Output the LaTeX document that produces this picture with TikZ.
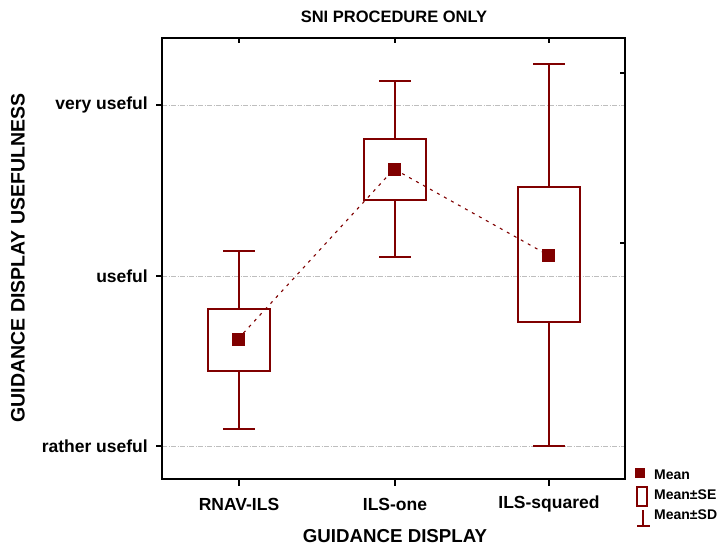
\documentclass[tikz,border=0pt]{standalone}
\usepackage{fontspec}
\setmainfont{Liberation Sans}
\definecolor{dred}{RGB}{128,0,0}
\definecolor{gridgray}{RGB}{190,190,190}
\tikzset{
  txt/.style={font=\bfseries\fontsize{17.5}{20}\selectfont, inner sep=0pt},
  legtxt/.style={font=\bfseries\fontsize{14}{16}\selectfont, inner sep=0pt, anchor=west},
  gridln/.style={gridgray, line width=1pt, dash pattern=on 5pt off 1.5pt on 1pt off 1.5pt},
  frameln/.style={black, line width=1.5pt},
  boxln/.style={dred, line width=2pt},
  whisk/.style={dred, line width=1.6pt},
  capln/.style={dred, line width=2pt},
  meanln/.style={dred, line width=1.1pt, dash pattern=on 3pt off 5pt},
  tickln/.style={black, line width=1.2pt}
}
\begin{document}
\begin{tikzpicture}[x=1pt,y=-1pt]
\useasboundingbox (0,0) rectangle (728,547);
\fill[white] (0,0) rectangle (728,547);

% frame corners
\coordinate (tl) at (162,38);
\coordinate (br) at (625,479);

% grid lines
\foreach \yy/\nm in {105/g1,276/g2,446/g3}{
  \coordinate (\nm l) at (162,\yy);
  \coordinate (\nm r) at (625,\yy);
  \draw[gridln] (\nm l) -- (\nm r);
}

% titles
\node[txt, font=\bfseries\fontsize{16.5}{20}\selectfont] (title) at (394,17) {SNI PROCEDURE ONLY};
\node[txt, rotate=90, font=\bfseries\fontsize{19.5}{22}\selectfont] (ylab) at (18,258) {GUIDANCE DISPLAY USEFULNESS};
\node[txt, font=\bfseries\fontsize{18.7}{22}\selectfont] (xlab) at (395,536) {GUIDANCE DISPLAY};

% y labels and ticks
\node[txt, anchor=east] (yl1) at (148,105) {very useful};
\node[txt, anchor=east] (yl2) at (148,276) {useful};
\node[txt, anchor=east] (yl3) at (148,446) {rather useful};
\foreach \yy in {105,276,446}{
  \coordinate (lt1) at (156,\yy);
  \coordinate (lt2) at (162,\yy);
  \draw[tickln] (lt1) -- (lt2);
}
% right ticks
\foreach \yy in {73,243}{
  \coordinate (rt1) at (620,\yy);
  \coordinate (rt2) at (625,\yy);
  \draw[tickln] (rt1) -- (rt2);
}

% x ticks and labels
\foreach \xx/\lab/\nm in {239/RNAV-ILS/c1, 395/ILS-one/c2, 549/ILS-squared/c3}{
  \coordinate (\nm b1) at (\xx,479);
  \coordinate (\nm b2) at (\xx,486);
  \coordinate (\nm t1) at (\xx,38);
  \coordinate (\nm t2) at (\xx,43);
  \draw[tickln] (\nm b1) -- (\nm b2);
  \draw[tickln] (\nm t1) -- (\nm t2);
  \node[txt] (\nm lab) at (\xx,504) {\lab};
}

% box plots: x / whisker top / box top / box bottom / whisker bottom / mean
\foreach \xx/\wt/\bt/\bb/\wb/\mn/\nm in {239/251/309/371/429/339/m1, 395/81/139/200/257/169/m2, 549/64/187/322/446/255/m3}{
  \coordinate (\nm wt) at (\xx,\wt);
  \coordinate (\nm bt) at (\xx,\bt);
  \coordinate (\nm bb) at (\xx,\bb);
  \coordinate (\nm wb) at (\xx,\wb);
  \coordinate (\nm) at (\xx-1,\mn);
  \draw[whisk] (\nm wt) -- (\nm bt);
  \draw[whisk] (\nm bb) -- (\nm wb);
  \draw[capln] ([xshift=-16pt]\nm wt) -- ([xshift=16pt]\nm wt);
  \draw[capln] ([xshift=-16pt]\nm wb) -- ([xshift=16pt]\nm wb);
  \draw[boxln] ([xshift=-31pt]\nm bt) rectangle ([xshift=31pt]\nm bb);
}

% mean line
\draw[meanln] (m1) -- (m2) -- (m3);
\foreach \nm in {m1,m2,m3}{
  \fill[dred] ([xshift=-6.5pt,yshift=6.5pt]\nm) rectangle ([xshift=6.5pt,yshift=-6.5pt]\nm);
}

% frame
\draw[frameln] (tl) rectangle (br);

% legend
\coordinate (lg1) at (640,473);
\fill[dred] ([xshift=-5pt,yshift=5pt]lg1) rectangle ([xshift=5pt,yshift=-5pt]lg1);
\draw[dred, line width=1.5pt] (637,487) rectangle (647,506);
\coordinate (lsd1) at (643,510);
\coordinate (lsd2) at (643,526);
\draw[dred, line width=1.5pt] (lsd1) -- (lsd2);
\draw[dred, line width=1.5pt] ([xshift=-6pt]lsd2) -- ([xshift=7pt]lsd2);
\node[legtxt] (leg1) at (654,475) {Mean};
\node[legtxt] (leg2) at (654,495) {Mean±SE};
\node[legtxt] (leg3) at (654,515) {Mean±SD};
\end{tikzpicture}
\end{document}
